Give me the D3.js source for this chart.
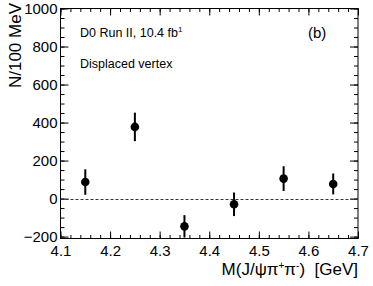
<!DOCTYPE html>
<html>
<head>
<meta charset="utf-8">
<script src="https://cdn.jsdelivr.net/npm/d3@7"></script>
<style>
  body { margin: 0; background: #fff; }
  svg { display: block; font-family: "Liberation Sans", Arial, sans-serif; }
  .axis path { display: none; }
  .axis line { stroke: #000; stroke-width: 1; }
  .axis text { font-size: 15px; fill: #000; }
</style>
</head>
<body>
<script>
// values
const massBins = [4.15, 4.25, 4.35, 4.45, 4.55, 4.65];
const counts = [87, 377, -146, -30, 105, 77];
const errors = [67, 75, 59, 62, 65, 55];
const xTickLabels = [4.1, 4.2, 4.3, 4.4, 4.5, 4.6, 4.7];
const yTickLabels = [-200, 0, 200, 400, 600, 800, 1000];

const width = 373;
const height = 286;
const padLeft = 60.5, padRight = 358, padTop = 8.5, padBottom = 238.5;

const x = d3.scaleLinear().domain([4.1, 4.7]).range([padLeft, padRight]);
const y = d3.scaleLinear().domain([-210, 1000]).range([padBottom, padTop]);

const svg = d3.select('body').append('svg')
  .attr('width', width)
  .attr('height', height);

const xMinor = d3.range(4.1, 4.7001, 0.02).map(v => +v.toFixed(2));
const yMinor = d3.range(-200, 1001, 50);

// bottom axis, ticks pointing in
svg.append('g').attr('class', 'axis')
  .attr('transform', `translate(0,${padBottom})`)
  .call(d3.axisBottom(x).tickValues(xMinor).tickSize(-3.5).tickFormat(''));
svg.append('g').attr('class', 'axis')
  .attr('transform', `translate(0,${padBottom})`)
  .call(d3.axisBottom(x).tickValues(xTickLabels).tickSize(-7).tickFormat(d3.format('.1f')))
  .selectAll('text').attr('y', 3).attr('dy', '0.95em');

// top axis
svg.append('g').attr('class', 'axis')
  .attr('transform', `translate(0,${padTop})`)
  .call(d3.axisTop(x).tickValues(xMinor).tickSize(-3.5).tickFormat(''));
svg.append('g').attr('class', 'axis')
  .attr('transform', `translate(0,${padTop})`)
  .call(d3.axisTop(x).tickValues(xTickLabels).tickSize(-7).tickFormat(''));

// left axis
svg.append('g').attr('class', 'axis')
  .attr('transform', `translate(${padLeft},0)`)
  .call(d3.axisLeft(y).tickValues(yMinor).tickSize(-4).tickFormat(''));
svg.append('g').attr('class', 'axis')
  .attr('transform', `translate(${padLeft},0)`)
  .call(d3.axisLeft(y).tickValues(yTickLabels).tickSize(-8).tickFormat(d => d < 0 ? '\u2212' + Math.abs(d) : d))
  .selectAll('text').attr('x', -3);

// right axis
svg.append('g').attr('class', 'axis')
  .attr('transform', `translate(${padRight},0)`)
  .call(d3.axisRight(y).tickValues(yMinor).tickSize(-4).tickFormat(''));
svg.append('g').attr('class', 'axis')
  .attr('transform', `translate(${padRight},0)`)
  .call(d3.axisRight(y).tickValues(yTickLabels).tickSize(-8).tickFormat(''));

// frame
svg.append('rect')
  .attr('x', padLeft).attr('y', padTop)
  .attr('width', padRight - padLeft).attr('height', padBottom - padTop)
  .attr('fill', 'none').attr('stroke', '#000').attr('stroke-width', 1);

// zero line
svg.append('line')
  .attr('x1', padLeft).attr('x2', padRight)
  .attr('y1', Math.round(y(0)) + 0.5).attr('y2', Math.round(y(0)) + 0.5)
  .attr('stroke', '#333').attr('stroke-width', 1)
  .attr('stroke-dasharray', '3,2');

// error bars + markers
const points = massBins.map((m, i) => ({ m, n: counts[i], e: errors[i] }));

svg.selectAll('.err')
  .data(points)
  .enter()
  .append('line')
  .attr('class', 'err')
  .attr('x1', d => x(d.m)).attr('x2', d => x(d.m))
  .attr('y1', d => y(d.n - d.e)).attr('y2', d => y(d.n + d.e))
  .attr('stroke', '#000').attr('stroke-width', 2);

svg.selectAll('.pt')
  .data(points)
  .enter()
  .append('circle')
  .attr('class', 'pt')
  .attr('cx', d => x(d.m)).attr('cy', d => y(d.n))
  .attr('r', 4.3)
  .attr('fill', '#000');

// labels
svg.append('text')
  .attr('transform', `translate(21,3) rotate(-90)`)
  .attr('text-anchor', 'end')
  .style('font-size', '17px')
  .text('N/100 MeV');

const xl = svg.append('text')
  .attr('x', padRight).attr('y', 275)
  .attr('text-anchor', 'end')
  .attr('xml:space', 'preserve')
  .style('font-size', '17px');
xl.append('tspan').text('M(J/\u03c8\u03c0');
xl.append('tspan').attr('dy', -6).style('font-size', '10px').text('+');
xl.append('tspan').attr('dy', 6).text('\u03c0');
xl.append('tspan').attr('dy', -6).style('font-size', '10px').text('-');
xl.append('tspan').attr('dy', 6).text(')  [GeV]');

const t1 = svg.append('text')
  .attr('x', 80).attr('y', 36.5)
  .style('font-size', '12.5px');
t1.append('tspan').text('D0 Run II, 10.4 fb');
t1.append('tspan').attr('dy', -5).style('font-size', '8px').text('1');

svg.append('text')
  .attr('x', 80).attr('y', 68)
  .style('font-size', '12.5px')
  .text('Displaced vertex');

svg.append('text')
  .attr('x', 308).attr('y', 38)
  .style('font-size', '15px')
  .text('(b)');
</script>
</body>
</html>
